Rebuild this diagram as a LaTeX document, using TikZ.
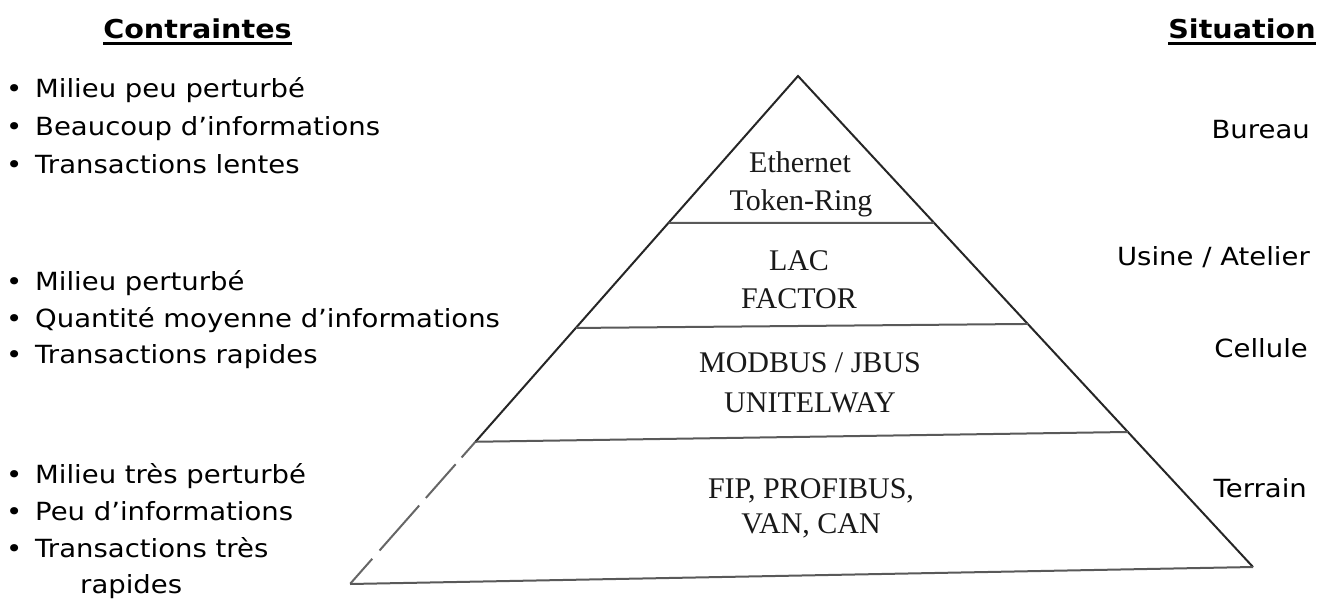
\documentclass[tikz,border=0pt]{standalone}
\usepackage{fontspec}
\setmainfont{DejaVu Sans}[FakeStretch=1.1]
\newfontfamily\netfont{Liberation Serif}
\usetikzlibrary{calc}

\tikzset{
  txt/.style={inner sep=0pt, font=\fontsize{25}{30}\selectfont},
  heading/.style={inner sep=0pt, font=\fontsize{26}{30}\selectfont\bfseries},
  net/.style={inner sep=0pt, text=black!90, font=\fontsize{30}{34}\netfont},
  edge/.style={line width=2pt, black!85},
  layer/.style={line width=2pt, black!65},
  brokenedge/.style={line width=2pt, black!60,
    dash pattern=on 21pt off 9pt on 45pt off 10pt on 60pt off 11pt on 33pt off 10pt}
}
\newcommand{\bul}{\makebox[29pt][l]{•}}

\begin{document}
\begin{tikzpicture}[x=1pt,y=-1pt]
\useasboundingbox (0,0) rectangle (1320,605);

% pyramid corners
\coordinate (apex) at (798,76);
\coordinate (bl) at (350,584);
\coordinate (br) at (1253,567);

% layer boundaries on both edges
\coordinate (l1) at ($(apex)!0.289!(bl)$);
\coordinate (r1) at ($(apex)!0.299!(br)$);
\coordinate (l2) at ($(apex)!0.496!(bl)$);
\coordinate (r2) at ($(apex)!0.505!(br)$);
\coordinate (l3) at ($(apex)!0.720!(bl)$);
\coordinate (r3) at ($(apex)!0.725!(br)$);

% outline
\draw[edge] (l3) -- (apex) -- (br);
\draw[brokenedge] (l3) -- (bl);
\draw[layer] (bl) -- (br);
\draw[layer] (l1) -- (r1);
\draw[layer] (l2) -- (r2);
\draw[layer] (l3) -- (r3);

% networks per layer
\node[net, anchor=base] (eth) at (800,172) {Ethernet};
\node[net, anchor=base] (tok) at (801,210) {Token-Ring};
\node[net, anchor=base] (lac) at (799,270) {LAC};
\node[net, anchor=base] (fac) at (799,308) {FACTOR};
\node[net, anchor=base] (mod) at (810,372) {MODBUS / JBUS};
\node[net, anchor=base] (uni) at (810,412) {UNITELWAY};
\node[net, anchor=base] (fip) at (811,498) {FIP, PROFIBUS,};
\node[net, anchor=base] (van) at (811,533) {VAN, CAN};

% column headings
\node[heading, anchor=base] (hc) at (197.5,38) {Contraintes};
\draw[line width=3pt] ($(hc.base west)+(0,5.5)$) -- ($(hc.base east)+(0,5.5)$);
\node[heading, anchor=base] (hs) at (1242,38) {Situation};
\draw[line width=3pt] ($(hs.base west)+(0,5.5)$) -- ($(hs.base east)+(0,5.5)$);

% constraints
\node[txt, anchor=base west] (c1a) at (6,97) {\bul Milieu peu perturbé};
\node[txt, anchor=base west] (c1b) at (6,135) {\bul Beaucoup d’informations};
\node[txt, anchor=base west] (c1c) at (6,173) {\bul Transactions lentes};

\node[txt, anchor=base west] (c2a) at (6,290) {\bul Milieu perturbé};
\node[txt, anchor=base west] (c2b) at (6,327) {\bul Quantité moyenne d’informations};
\node[txt, anchor=base west] (c2c) at (6,363) {\bul Transactions rapides};

\node[txt, anchor=base west] (c3a) at (6,483) {\bul Milieu très perturbé};
\node[txt, anchor=base west] (c3b) at (6,520) {\bul Peu d’informations};
\node[txt, anchor=base west] (c3c) at (6,557) {\bul Transactions très};
\node[txt, anchor=base west] (c3d) at (80,593) {rapides};

% situations
\node[txt, anchor=base east] (s1) at (1310,138) {Bureau};
\node[txt, anchor=base east] (s2) at (1310,265) {Usine / Atelier};
\node[txt, anchor=base east] (s3) at (1308,357) {Cellule};
\node[txt, anchor=base east] (s4) at (1307,497) {Terrain};
\end{tikzpicture}
\end{document}
